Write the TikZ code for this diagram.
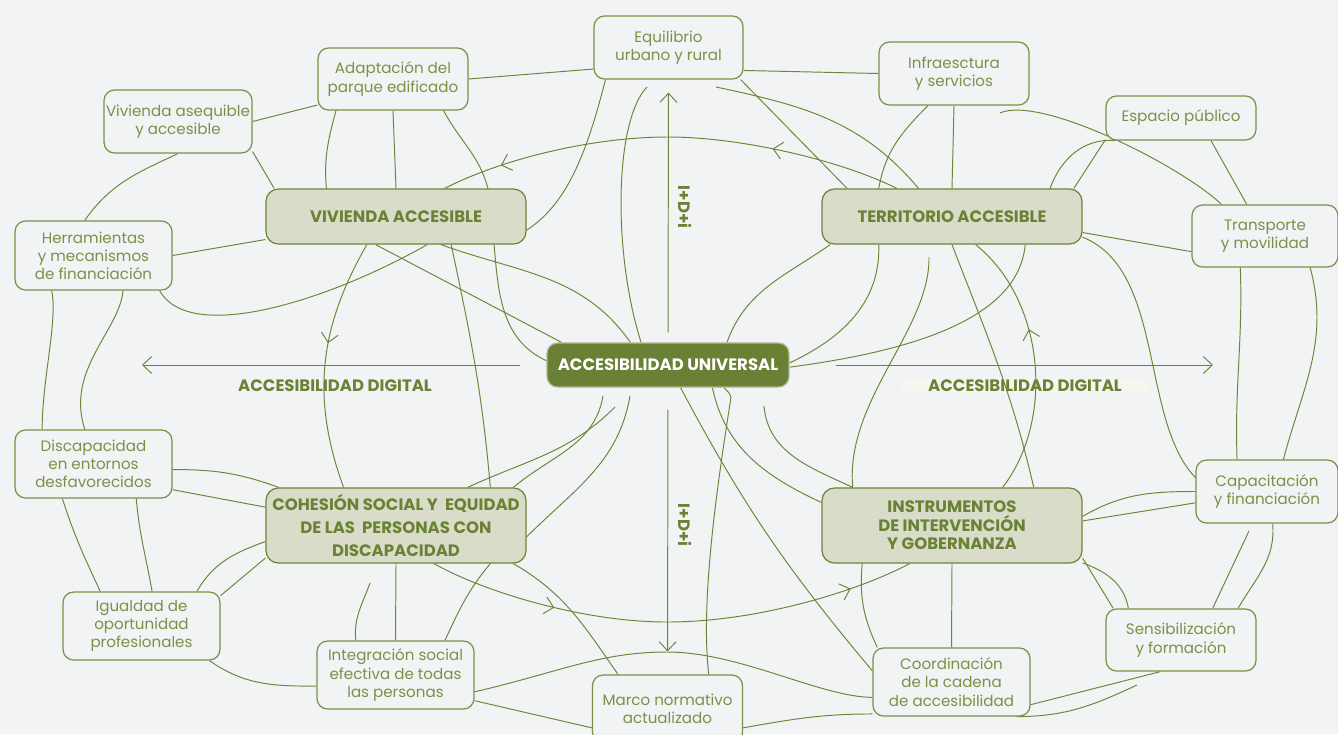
\documentclass[tikz,border=0pt]{standalone}
\usepackage{fontspec}
\setmainfont{Poppins}
\usetikzlibrary{arrows.meta,decorations.markings,backgrounds}
\definecolor{bgc}{HTML}{F1F3F4}
\definecolor{lnc}{HTML}{6E8537}
\definecolor{hubc}{HTML}{6A8034}
\definecolor{cxc}{HTML}{D9DCC8}
\definecolor{txc}{HTML}{6B8235}
\definecolor{lfc}{HTML}{7A9147}
\definecolor{hlc}{HTML}{F4F6EF}
\tikzset{
  tp/.tip={Straight Barb[length=1.8mm,width=3.4mm]},
  hub/.style={rounded corners=6pt,draw=hubc!55!white,fill=hubc,text=white,line width=.7pt,
    minimum width=4.84cm,minimum height=.88cm,inner sep=0pt,font=\fontsize{9.4}{10.5}\selectfont\bfseries},
  cx/.style={rounded corners=7pt,draw=lnc,fill=cxc,text=txc,line width=.7pt,align=center,
    minimum width=5.2cm,minimum height=1.1cm,inner sep=0pt,font=\fontsize{9.4}{10.5}\selectfont\bfseries},
  % the small topic boxes have the page colour as fill, so the links stop at their border
  lf/.style={rounded corners=6pt,draw=lfc,fill=bgc,text=lfc,line width=.7pt,align=center,
    minimum width=3cm,minimum height=1.26cm,inner sep=0pt,font=\fontsize{8.6}{10.3}\selectfont},
  lnk/.style={draw=lnc,line width=.55pt},
  msg/.style={lnk,-tp},
  flow/.style={postaction={decorate,decoration={markings,mark=at position #1 with {\arrow{tp}}}}},
  lb/.style={text=txc,inner sep=0pt,font=\fontsize{9.4}{10.5}\selectfont\bfseries},
}

\begin{document}
\begin{tikzpicture}[x=0.02cm,y=-0.02cm]
\useasboundingbox (0,0) rectangle (1338,734);
% ============================= core
\node[hub] (au) at (668,365) {ACCESIBILIDAD UNIVERSAL};
\node[cx] (viv) at (396,216.5) {VIVIENDA ACCESIBLE};
\node[cx] (ter) at (952,216.5) {TERRITORIO ACCESIBLE};
\node[cx,minimum height=1.5cm,font=\fontsize{9.4}{13}\selectfont\bfseries] (coh) at (396,525.5)
  {COHESIÓN SOCIAL Y\ \ EQUIDAD\\DE LAS\ \ PERSONAS CON\\DISCAPACIDAD};
\node[cx,minimum height=1.5cm] (ins) at (952,525.5) {INSTRUMENTOS\\DE INTERVENCIÓN\\Y GOBERNANZA};
% ============================= topics
\node[lf,minimum width=2.98cm] (equ) at (668.5,47.5) {Equilibrio\\urbano y rural};
\node[lf,minimum height=1.24cm] (ada) at (393,79) {Adaptación del\\parque edificado};
\node[lf,minimum width=2.96cm] (vas) at (178,121.5) {Vivienda asequible\\y accesible};
\node[lf,minimum width=3.14cm,minimum height=1.38cm] (her) at (93.5,255.5) {Herramientas\\y mecanismos\\de financiación};
\node[lf] (inf) at (954,73.5) {Infraesctura\\y servicios};
\node[lf,minimum height=.88cm] (esp) at (1181,118) {Espacio público};
\node[lf,minimum width=2.92cm,minimum height=1.24cm] (tra) at (1265,236) {Transporte\\y movilidad};
\node[lf,minimum width=2.84cm] (cap) at (1267,491.5) {Capacitación\\y financiación};
\node[lf,minimum height=1.24cm] (sen) at (1181,640) {Sensibilización\\y formación};
\node[lf,minimum width=3.14cm,minimum height=1.36cm] (coo) at (951.5,682) {Coordinación\\de la cadena\\de accesibilidad};
\node[lf,minimum height=1.36cm] (mar) at (667.5,709) {Marco normativo\\actualizado};
\node[lf,minimum width=3.14cm,minimum height=1.36cm] (itg) at (395.5,675) {Integración social\\efectiva de todas\\las personas};
\node[lf,minimum width=3.14cm,minimum height=1.36cm] (igu) at (141.5,626) {Igualdad de\\oportunidad\\profesionales};
\node[lf,minimum width=3.14cm,minimum height=1.36cm] (dis) at (93.5,464) {Discapacidad\\en entornos\\desfavorecidos};
% loose ends
\coordinate (fEq) at (647,87);
\coordinate (fEr) at (716,87);
\coordinate (fIn) at (1000,113);
\coordinate (fTe) at (929,257);
\coordinate (fU1) at (603,396);
\coordinate (fU2) at (615,407);
\coordinate (fU3) at (630,396);
\coordinate (fU4) at (764,406);
\coordinate (fCa) at (1249,531);
\coordinate (fCo) at (1137,685);
\coordinate (fIt) at (370,583);
\coordinate (aL) at (142,365);
\coordinate (aR) at (1213,365);

\begin{scope}[on background layer]
\fill[bgc] (0,0) rectangle (1338,734);
\node[lb] (dgL) at (335,386) {ACCESIBILIDAD DIGITAL};
\node[lb,fill=hlc,minimum width=4.96cm,minimum height=.27cm] (dgR) at (1025,386) {ACCESIBILIDAD DIGITAL};
\node[lb,rotate=-90] (idU) at (685,207) {I+D+i};
\node[lb,rotate=-90] (idD) at (685,525) {I+D+i};
% ============================= axes
\draw[msg,shorten <=.2cm,shorten >=.26cm] (au.north) -- (equ.south);
\draw[msg,shorten <=.44cm,shorten >=.46cm] (au.south) -- (mar.north);
\draw[msg,shorten <=.52cm] (au.west) -- (aL);
\draw[msg,shorten <=.92cm] (au.east) -- (aR);
% ============================= vivienda side
\draw[lnk] (ada.east) -- (equ.196);
\draw[lnk] (vas.east) -- (ada.199);
\draw[lnk] (vas.338) -- (viv.167);
\draw[lnk] (vas.south) to[out=205,in=55] (her.104);
\draw[lnk] (ada.south) -- (viv.north);
\draw[lnk] (ada.209) to[out=255,in=95] (viv.158);
\draw[lnk] (ada.328) to[out=-62,in=105] (viv.17);
\draw[lnk] (equ.207) .. controls (585,160) and (565,205) .. (viv.354);
\draw[lnk] (fEq) .. controls (615,120) and (612,250) .. (au.140);
\draw[lnk] (viv.234) -- (au.168);
\draw[lnk] (viv.328) to[out=-20,in=125] (au.149);
\draw[lnk] (viv.344) to[out=-85,in=155] (au.178);
\draw[lnk] (viv.333) to[out=-78,in=95] (coh.22);
\draw[lnk,flow=.42] (viv.224) to[out=240,in=110] (coh.144);
\draw[lnk] (viv.190) -- (her.east);
\draw[lnk] (her.332) .. controls (190,345) and (330,300) .. (viv.318);
\draw[lnk] (her.220) .. controls (58,320) and (42,380) .. (dis.146);
\draw[lnk] (her.310) .. controls (120,330) and (65,370) .. (dis.104);
% ============================= cohesion side
\draw[lnk] (dis.356) to[out=0,in=160] (coh.162);
\draw[lnk] (dis.342) -- (coh.172);
\draw[lnk] (dis.228) to[out=-72,in=115] (igu.140);
\draw[lnk] (dis.321) to[out=-85,in=100] (igu.73);
\draw[lnk] (igu.32) to[out=60,in=200] (coh.187);
\draw[lnk] (igu.21) -- (coh.194);
\draw[lnk] (igu.333) to[out=-35,in=180] (itg.188);
\draw[lnk] (itg.139) to[out=95,in=-110] (fIt);
\draw[lnk] (itg.north) -- (coh.south);
\draw[lnk] (itg.35) to[out=65,in=230] (coh.338);
\draw[lnk] (coh.342) to[out=-30,in=125] (mar.145);
\draw[lnk] (itg.342) -- (mar.194);
\draw[lnk] (itg.348) .. controls (560,672) and (600,652) .. (667,652)
  .. controls (740,652) and (820,697) .. (coo.191);
\draw[lnk] (fU1) to[out=-100,in=40] (coh.18);
\draw[lnk] (fU2) to[out=225,in=25] (coh.28);
\draw[lnk] (fU3) to[out=-100,in=45] (coh.355);
\draw[lnk,flow=.26,flow=.87] (coh.315) .. controls (480,590) and (580,622) .. (667,622)
  .. controls (760,622) and (860,590) .. (ins.222);
% ============================= instrumentos side
\draw[lnk] (mar.346) to[out=10,in=180] (coo.202);
\draw[lnk] (coo.332) to[out=0,in=205] (fCo);
\draw[lnk] (sen.237) -- (coo.344);
\draw[lnk] (coo.north) -- (ins.south);
\draw[lnk] (coo.155) to[out=115,in=-95] (ins.203);
\draw[lnk] (au.299) to[out=-62,in=130] (coo.172);
\draw[lnk] (au.333) to[out=-78,in=155] (ins.170);
\draw[lnk] (au.338) to[out=-50,in=100] ++(7,10) .. controls (718,480) and (700,600) .. (mar.40);
\draw[lnk] (fU4) to[out=-85,in=155] (ins.159);
\draw[lnk] (cap.west) to[out=180,in=30] (ins.4);
\draw[lnk] (cap.189) -- (ins.2);
\draw[lnk] (fCa) -- (sen.45);
\draw[lnk] (cap.280) to[out=-85,in=60] (sen.29);
\draw[lnk] (ins.346) -- (sen.155);
\draw[lnk] (ins.344) to[out=-20,in=100] (sen.149);
% ============================= territorio side
\draw[lnk,flow=.28,flow=.87] (ter.153) .. controls (840,160) and (740,137) .. (668,137)
  .. controls (590,137) and (500,160) .. (viv.30);
\draw[lnk] (equ.336) -- (ter.165);
\draw[lnk] (fEr) to[out=-12,in=130] (ter.140);
\draw[lnk] (equ.343) -- (inf.west);
\draw[lnk] (inf.231) to[out=225,in=80] (ter.159);
\draw[lnk] (inf.south) -- (ter.north);
\draw[lnk] (fIn) .. controls (1040,95) and (1180,165) .. (tra.144);
\draw[lnk] (esp.196) -- (ter.13);
\draw[lnk] (ter.16) to[out=70,in=175] (esp.199);
\draw[lnk] (esp.323) -- (tra.120);
\draw[lnk] (ter.353) -- (tra.192);
\draw[lnk] (ter.351) .. controls (1165,270) and (1140,420) .. (cap.169);
\draw[lnk] (tra.232) to[out=-88,in=92] (cap.133);
\draw[lnk] (tra.325) to[out=-75,in=75] (cap.63);
\draw[lnk] (fTe) .. controls (930,330) and (845,400) .. (ins.159);
\draw[lnk,flow=.62] (ins.37) .. controls (1055,420) and (1045,300) .. (ter.310);
\draw[lnk] (ter.south) to[out=-69,in=103] (ins.25);
\draw[lnk] (ter.193) to[out=215,in=70] (au.21);
\draw[lnk] (ter.201) to[out=-88,in=25] (au.1);
\draw[lnk] (ter.339) .. controls (1020,300) and (960,345) .. (au.359);
\end{scope}
\end{tikzpicture}
\end{document}
